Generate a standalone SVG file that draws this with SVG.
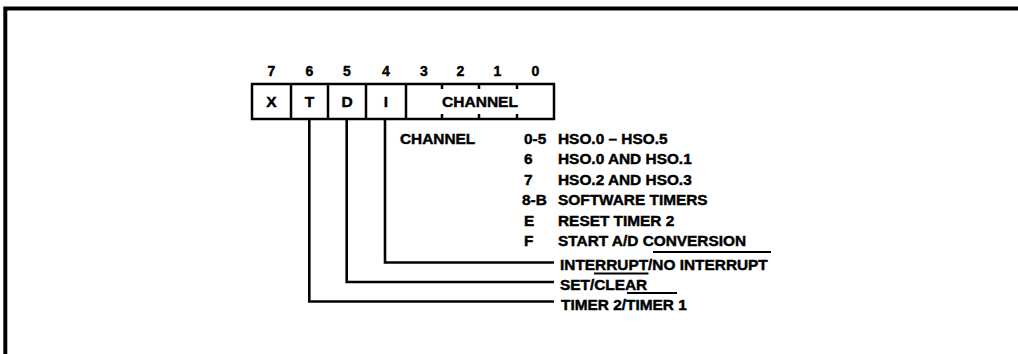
<svg xmlns="http://www.w3.org/2000/svg" width="1018" height="354" viewBox="0 0 1018 354">
<style>
text{font-family:"Liberation Sans",Arial,Helvetica,sans-serif;font-weight:bold;fill:#000;stroke:#000;stroke-width:0.45}
.bit{font-size:14px;text-anchor:middle}
.cell{font-size:15.5px;text-anchor:middle}
.lbl{font-size:15.4px}
.box{fill:none;stroke:#000;stroke-width:2.5}
.ln{fill:none;stroke:#000;stroke-width:2.6}
.ov{stroke:#000;stroke-width:1.8}
</style>
<rect width="1018" height="354" fill="#fff"/>
<g id="frame">
<path d="M5.3 354 V8.5 H1018" fill="none" stroke="#000" stroke-width="4"/>
</g>
<g id="register">
<rect class="box" x="252" y="84" width="302" height="35"/>
<path class="box" d="M291 84V119M328 84V119M366 84V119M406 84V119M442 84V89M479 84V89M517 84V89M442 114V119M479 114V119M517 114V119"/>
<text class="bit" x="271.5" y="76">7</text>
<text class="bit" x="309.5" y="76">6</text>
<text class="bit" x="347" y="76">5</text>
<text class="bit" x="386" y="76">4</text>
<text class="bit" x="424" y="76">3</text>
<text class="bit" x="460.5" y="76">2</text>
<text class="bit" x="497.5" y="76">1</text>
<text class="bit" x="535.5" y="76">0</text>
<text class="cell" x="271.5" y="107">X</text>
<text class="cell" x="309.5" y="107">T</text>
<text class="cell" x="347" y="107">D</text>
<text class="cell" x="386" y="107">I</text>
<text class="cell" x="480" y="107">CHANNEL</text>
</g>
<g id="channel-table">
<text class="lbl" x="400" y="144">CHANNEL</text>
<text class="lbl" x="524" y="144">0-5</text>
<text class="lbl" x="558" y="144">HSO.0 – HSO.5</text>
<text class="lbl" x="524" y="164">6</text>
<text class="lbl" x="558" y="164">HSO.0 AND HSO.1</text>
<text class="lbl" x="524" y="184.5">7</text>
<text class="lbl" x="558" y="184.5">HSO.2 AND HSO.3</text>
<text class="lbl" x="522" y="205">8-B</text>
<text class="lbl" x="558" y="205">SOFTWARE TIMERS</text>
<text class="lbl" x="524" y="225.5">E</text>
<text class="lbl" x="558" y="225.5">RESET TIMER 2</text>
<text class="lbl" x="524" y="246">F</text>
<text class="lbl" x="558" y="246">START A/D CONVERSION</text>
</g>
<g id="label-interrupt">
<text class="lbl" x="560" y="269.5">INTERRUPT/NO INTERRUPT</text>
<line class="ov" x1="653" y1="252" x2="771" y2="252"/>
</g>
<g id="label-set">
<text class="lbl" x="560" y="289.5">SET/CLEAR</text>
<line class="ov" x1="594" y1="273.5" x2="648.5" y2="273.5"/>
</g>
<g id="label-timer">
<text class="lbl" x="561" y="309.5">TIMER 2/TIMER 1</text>
<line class="ov" x1="627" y1="293" x2="677" y2="293"/>
</g>
<g id="connectors">
<path class="ln" d="M385 119V262.5H554"/>
<path class="ln" d="M346.7 119V282H554"/>
<path class="ln" d="M309.3 119V301.5H554"/>
</g>
</svg>
